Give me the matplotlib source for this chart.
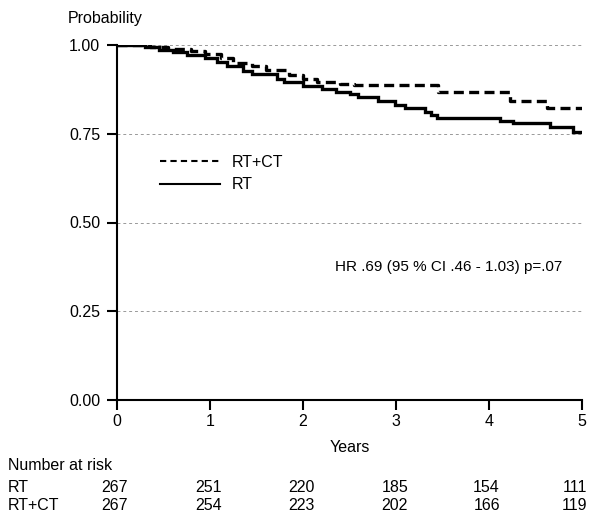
import matplotlib
matplotlib.use("Agg")
import matplotlib.pyplot as plt
from matplotlib.lines import Line2D

plt.rcParams['font.family'] = ['Liberation Sans', 'DejaVu Sans']

# Kaplan-Meier step data (time in years, survival probability)
rt_t = [0, 0.30, 0.45, 0.60, 0.75, 0.95, 1.07, 1.18, 1.35, 1.45, 1.72, 1.80, 2.00, 2.20, 2.35,
        2.50, 2.59, 2.81, 2.99, 3.10, 3.31, 3.38, 3.44, 4.12, 4.26, 4.66, 4.90, 5.00]
rt_s = [1.0, 0.993, 0.987, 0.981, 0.972, 0.963, 0.953, 0.940, 0.928, 0.917, 0.905, 0.897, 0.885,
        0.876, 0.868, 0.862, 0.853, 0.841, 0.831, 0.822, 0.812, 0.803, 0.793, 0.786, 0.779,
        0.768, 0.756, 0.756]

rtct_t = [0, 0.35, 0.55, 0.80, 0.95, 1.12, 1.25, 1.45, 1.60, 1.85, 2.00, 2.15, 2.40, 2.55,
          3.45, 4.23, 4.62, 5.00]
rtct_s = [1.0, 0.995, 0.988, 0.983, 0.975, 0.962, 0.950, 0.940, 0.930, 0.915, 0.905, 0.897,
          0.890, 0.887, 0.868, 0.843, 0.822, 0.822]

x_ticks = [0, 1, 2, 3, 4, 5]
y_ticks = [0.0, 0.25, 0.50, 0.75, 1.00]
y_tick_labels = ["0.00", "0.25", "0.50", "0.75", "1.00"]

risk_groups = ["RT", "RT+CT"]
risk_rt = [267, 251, 220, 185, 154, 111]
risk_rtct = [267, 254, 223, 202, 166, 119]

hr_text = "HR .69 (95 % CI .46 - 1.03) p=.07"

fig = plt.figure(figsize=(6.0, 5.19), dpi=100)
W, H = 600, 519
ax = fig.add_axes([117 / W, 1 - 400 / H, (582 - 117) / W, (400 - 45) / H])

fs = 11.5

for y in [0.25, 0.5, 0.75, 1.0]:
    ax.axhline(y, color='#999999', lw=0.7, ls=(0, (3, 3)), zorder=1)

ax.step(rt_t, rt_s, where='post', color='black', lw=2.4, zorder=3, solid_joinstyle='miter')
ax.step(rtct_t, rtct_s, where='post', color='black', lw=2.4, ls=(0, (3, 1.6)), zorder=3)

ax.set_xlim(0, 5)
ax.set_ylim(0, 1)
ax.set_xticks(x_ticks)
ax.set_xticklabels([str(v) for v in x_ticks], fontsize=fs)
ax.set_yticks(y_ticks)
ax.set_yticklabels(y_tick_labels, fontsize=fs)
ax.spines['top'].set_visible(False)
ax.spines['right'].set_visible(False)
ax.spines['left'].set_linewidth(1.5)
ax.spines['bottom'].set_linewidth(1.5)
ax.tick_params(axis='x', direction='out', length=7, width=1.5, pad=3)
ax.tick_params(axis='y', direction='out', length=7, width=1.5, pad=5)
ax.set_xlabel("Years", fontsize=fs, labelpad=8)

handles = [Line2D([], [], color='black', lw=1.5, ls=(0, (3, 2))),
           Line2D([], [], color='black', lw=1.5)]
ax.legend(handles, ["RT+CT", "RT"], loc='upper left', bbox_to_anchor=(0.0925, 0.69),
          frameon=False, fontsize=fs, handlelength=3.75, handletextpad=0.75,
          labelspacing=0.45, borderpad=0, borderaxespad=0)

ax.text(0.469, 0.375, hr_text, transform=ax.transAxes, fontsize=11, va='center', ha='left')

fig.text(105 / W, 1 - 18 / H, "Probability", fontsize=fs, ha='center', va='center')

fig.text(8 / W, 1 - 465 / H, "Number at risk", fontsize=fs, ha='left', va='center')
col_right = [128, 222, 315, 408, 500, 587]
row_y = [488, 506]
for gi, (g, vals) in enumerate(zip(risk_groups, [risk_rt, risk_rtct])):
    fig.text(8 / W, 1 - row_y[gi] / H, g, fontsize=fs, ha='left', va='center')
    for xr, v in zip(col_right, vals):
        fig.text(xr / W, 1 - row_y[gi] / H, str(v), fontsize=fs, ha='right', va='center')

fig.savefig("out.png", dpi=100)
